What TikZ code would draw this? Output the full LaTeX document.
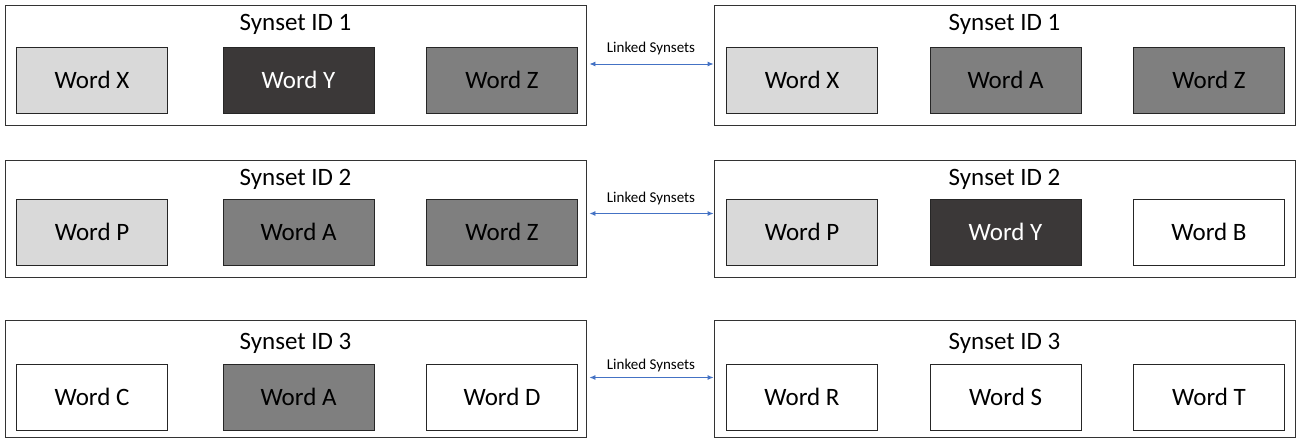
\documentclass[tikz,border=0pt]{standalone}
\usepackage{fontspec}
\setmainfont{Carlito}
\usetikzlibrary{arrows.meta}
\definecolor{lg}{HTML}{D9D9D9}
\definecolor{dg}{HTML}{3B3838}
\definecolor{mg}{HTML}{7F7F7F}
\definecolor{ab}{HTML}{4472C4}
\tikzset{
  outerbox/.style={draw=black!80, line width=0.9pt, minimum width=581pt, minimum height=120pt, inner sep=0pt},
  wbox/.style={draw=black!85, line width=0.8pt, minimum width=151pt, minimum height=66pt, inner sep=0pt, font=\fontsize{25}{28}\selectfont},
  light/.style={wbox, fill=lg, text=black},
  dark/.style={wbox, fill=dg, text=white},
  mid/.style={wbox, fill=mg, text=black},
  white/.style={wbox, fill=white, text=black},
  title/.style={font=\fontsize{25}{28}\selectfont, inner sep=0pt},
  link/.style={ab, line width=0.9pt, {Latex[length=6pt,width=5pt]}-{Latex[length=6pt,width=5pt]}},
  linklabel/.style={font=\fontsize{15}{17}\selectfont, inner sep=0pt}
}
\begin{document}
\begin{tikzpicture}[x=1pt,y=-1pt]
\useasboundingbox (0,0) rectangle (1303,441);
% row 1
\node[outerbox] (L1) at (295.5,65) {};
\node[outerbox] (R1) at (1004.5,65) {};
\node[title] (L1t) at (295.5,24) {Synset ID 1};
\node[title] (R1t) at (1004.5,24) {Synset ID 1};
\node[light] (L1a) at (92,80) {Word X};
\node[dark]  (L1b) at (298.5,80) {Word Y};
\node[mid]   (L1c) at (502,80) {Word Z};
\node[light] (R1a) at (802,80) {Word X};
\node[mid]   (R1b) at (1005.5,80) {Word A};
\node[mid]   (R1c) at (1209,80) {Word Z};
\draw[link] (L1.east) ++(3,-1) coordinate (l1s) -- (l1s -| R1.west) coordinate (l1e);
\node[linklabel] (k1) at (651,49) {Linked Synsets};
% row 2
\node[outerbox, minimum height=117pt] (L2) at (295.5,218.5) {};
\node[outerbox, minimum height=117pt] (R2) at (1004.5,218.5) {};
\node[title] (L2t) at (295.5,179) {Synset ID 2};
\node[title] (R2t) at (1004.5,179) {Synset ID 2};
\node[light] (L2a) at (92,232) {Word P};
\node[mid]   (L2b) at (298.5,232) {Word A};
\node[mid]   (L2c) at (502,232) {Word Z};
\node[light] (R2a) at (802,232) {Word P};
\node[dark]  (R2b) at (1005.5,232) {Word Y};
\node[white] (R2c) at (1209,232) {Word B};
\draw[link] (L2.east) ++(3,-5) coordinate (l2s) -- (l2s -| R2.west);
\node[linklabel] (k2) at (651,199) {Linked Synsets};
% row 3
\node[outerbox, minimum height=117pt] (L3) at (295.5,378.5) {};
\node[outerbox, minimum height=117pt] (R3) at (1004.5,378.5) {};
\node[title] (L3t) at (295.5,343) {Synset ID 3};
\node[title] (R3t) at (1004.5,343) {Synset ID 3};
\node[white] (L3a) at (92,397) {Word C};
\node[mid]   (L3b) at (298.5,397) {Word A};
\node[white] (L3c) at (502,397) {Word D};
\node[white] (R3a) at (802,397) {Word R};
\node[white] (R3b) at (1005.5,397) {Word S};
\node[white] (R3c) at (1209,397) {Word T};
\draw[link] (L3.east) ++(3,-1) coordinate (l3s) -- (l3s -| R3.west);
\node[linklabel] (k3) at (651,365) {Linked Synsets};
\end{tikzpicture}
\end{document}
